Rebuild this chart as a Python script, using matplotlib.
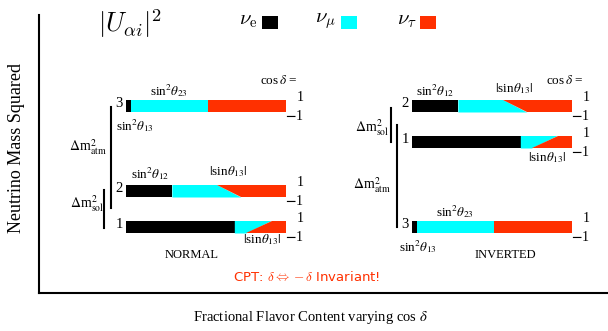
import matplotlib
matplotlib.use("Agg")
import matplotlib.pyplot as plt
from matplotlib.patches import Polygon, Rectangle

plt.rcParams['font.family'] = ['Liberation Serif', 'DejaVu Serif']
plt.rcParams['mathtext.fontset'] = 'stix'

# flavour fractions of mass states 1, 2, 3
nu_e = [0.68, 0.29, 0.03]
nu_mu_cos_p1 = [0.23, 0.28, 0.48]   # cos delta = +1 (top edge of bar)
nu_mu_cos_m1 = [0.07, 0.43, 0.48]   # cos delta = -1 (bottom edge of bar)
states = ['1', '2', '3']

black = '#000000'
cyan = '#00ffff'
red = '#ff3000'

# layout in pixel units of the axes
W, H = 608, 331
bar_w, bar_h = 160, 12.5
normal_x0 = 126
inverted_x0 = 412
normal_top = [221, 185, 100]
inverted_top = [136, 100, 221]

fig = plt.figure(figsize=(W / 100, H / 100), dpi=100)
ax = fig.add_axes([39 / W, 1 - 293 / H, (W - 39) / W, (293 - 15) / H])
ax.set_xlim(39, W)
ax.set_ylim(293, 15)
ax.set_xticks([])
ax.set_yticks([])
for s in ['top', 'right']:
    ax.spines[s].set_visible(False)
for s in ['left', 'bottom']:
    ax.spines[s].set_linewidth(1.5)
ax.set_xlabel(r'Fractional Flavor Content varying cos $\delta$', fontsize=10.5)
ax.set_ylabel('Neutrino Mass Squared', fontsize=13)
ax.xaxis.set_label_coords((310 - 39) / (W - 39), -(309 - 293) / (293 - 15))
ax.yaxis.set_label_coords(-(39 - 25) / (W - 39), (293 - 148) / (293 - 15))


def draw_bar(x0, y0, label, e, mu_t, mu_b):
    y1 = y0 + bar_h
    xe = x0 + e * bar_w
    ax.add_patch(Rectangle((x0, y0), e * bar_w, bar_h, color=black, lw=0))
    pt = xe + mu_t * bar_w
    pb = xe + mu_b * bar_w
    ax.add_patch(Polygon([(xe, y0), (pt, y0), (pb, y1), (xe, y1)], color=cyan, lw=0))
    ax.add_patch(Polygon([(pt, y0), (x0 + bar_w, y0), (x0 + bar_w, y1), (pb, y1)], color=red, lw=0))
    ax.text(x0 - 3, y0 + 4, label, fontsize=10.5, ha='right', va='center')
    ax.text(x0 + bar_w + 14, y0 - 2, '1', fontsize=10, ha='center', va='center')
    ax.text(x0 + bar_w + 8, y1 + 4, r'$\mathbf{-}$1', fontsize=10, ha='center', va='center')


def txt(x, y, s, size=9.5, **kw):
    ax.text(x, y, s, fontsize=size, ha='center', va='center', clip_on=False, **kw)


for tops, x0 in [(normal_top, normal_x0), (inverted_top, inverted_x0)]:
    for i in range(3):
        draw_bar(x0, tops[i], states[i], nu_e[i], nu_mu_cos_p1[i], nu_mu_cos_m1[i])

# header and legend
ax.text(130, 24, r'$|U_{\alpha i}|^2$', fontsize=19, ha='center', va='center', math_fontfamily='cm')
for lab, col, xl, xs in [(r'$\nu_{\rm e}$', black, 248, 262),
                         (r'$\nu_\mu$', cyan, 325, 341),
                         (r'$\nu_\tau$', red, 407, 420)]:
    ax.text(xl, 21, lab, fontsize=15, ha='center', va='center', math_fontfamily='cm')
    ax.add_patch(Rectangle((xs, 16), 16, 13, color=col, lw=0, clip_on=False))

# normal ordering annotations
txt(169, 91, r'sin$^2\theta_{23}$')
txt(135, 126, r'sin$^2\theta_{13}$')
txt(279, 81, r'cos$\,\delta$ =')
txt(150, 174, r'sin$^2\theta_{12}$')
txt(228, 172, r'$|$sin$\theta_{13}|$')
txt(262, 240, r'$|$sin$\theta_{13}|$')
txt(88, 147, r'$\Delta$m$^2_{\rm atm}$', 10)
txt(87, 204, r'$\Delta$m$^2_{\rm sol}$', 10)
ax.plot([111, 111], [107, 208], color='black', lw=1.5)
ax.plot([104, 104], [190, 228], color='black', lw=1.5)
txt(192, 255, 'NORMAL', 9)

# inverted ordering annotations
txt(565, 81, r'cos$\,\delta$ =')
txt(435, 91, r'sin$^2\theta_{12}$')
txt(514, 89, r'$|$sin$\theta_{13}|$')
txt(547, 158, r'$|$sin$\theta_{13}|$')
txt(455, 212, r'sin$^2\theta_{23}$')
txt(418, 247, r'sin$^2\theta_{13}$')
txt(372, 128, r'$\Delta$m$^2_{\rm sol}$', 10)
txt(372, 185, r'$\Delta$m$^2_{\rm atm}$', 10)
ax.plot([391, 391], [108, 142], color='black', lw=1.5)
ax.plot([397, 397], [125, 227], color='black', lw=1.5)
txt(505, 255, 'INVERTED', 9)

ax.text(307, 277, r'CPT: $\delta \Leftrightarrow -\delta$ Invariant!', fontsize=9.5,
        color=red, ha='center', va='center', family='DejaVu Sans', math_fontfamily='cm')

fig.savefig('out.png', dpi=100)
